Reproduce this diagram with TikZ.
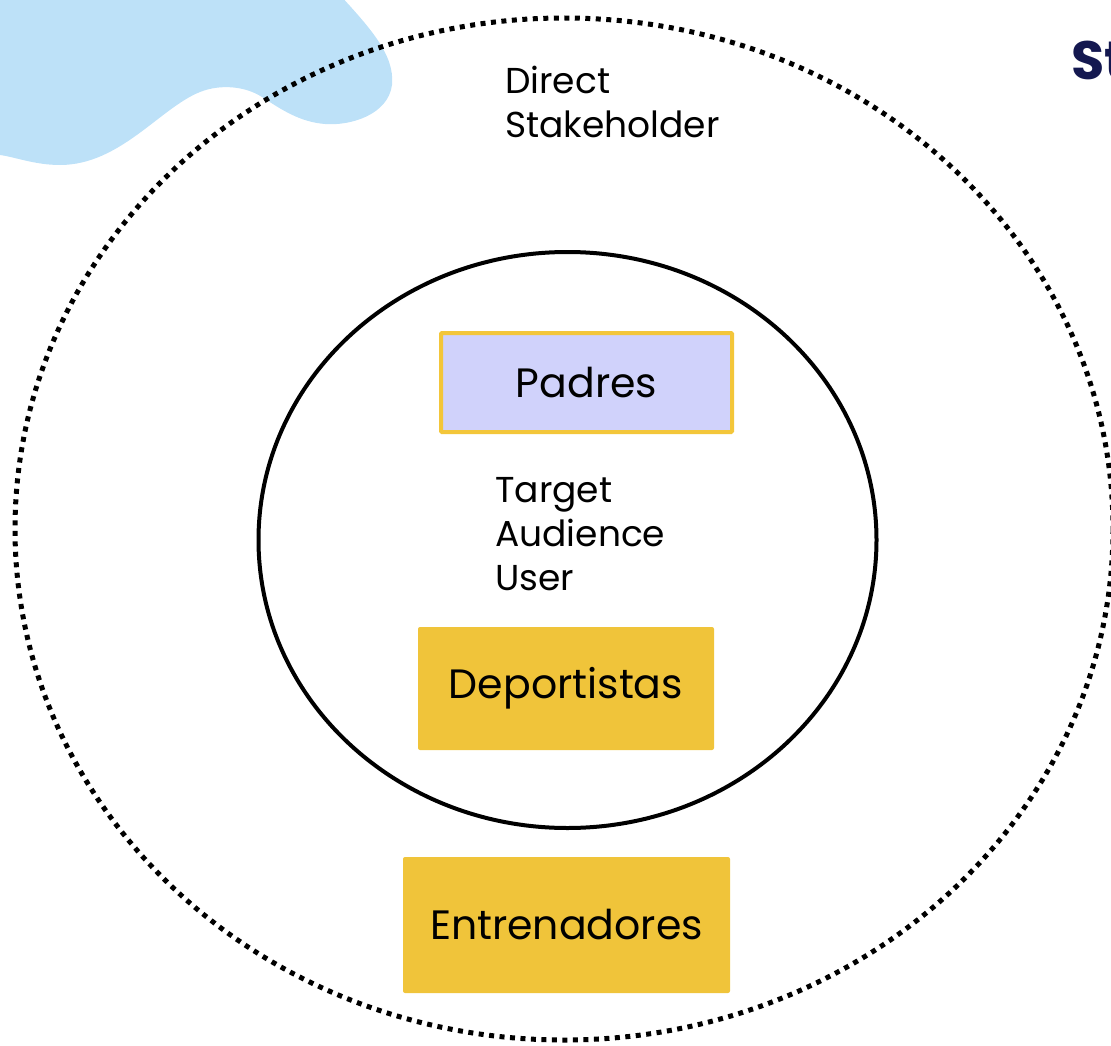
\documentclass[tikz,border=0pt]{standalone}
\usepackage{fontspec}
\setmainfont{Poppins}
\definecolor{blob}{HTML}{BDE1F8}
\definecolor{lav}{HTML}{D0D2FB}
\definecolor{gold}{HTML}{F0C43A}
\definecolor{goldline}{HTML}{F3C63A}
\definecolor{navy}{HTML}{141850}
\begin{document}
\begin{tikzpicture}[x=1pt,y=-1pt,
  lbl/.style={anchor=base west,inner sep=0pt,align=left,font=\fontsize{36}{44}\selectfont},
  boxtext/.style={font=\fontsize{41}{50}\selectfont},
  goldbox/.style={fill=gold,draw=none,rounded corners=2pt,inner sep=0pt,boxtext},
  lavbox/.style={fill=lav,draw=goldline,line width=4pt,rounded corners=1pt,inner sep=0pt,boxtext},
  dots/.style={line width=5pt,dash pattern=on 5pt off 5.5pt},
  solidring/.style={line width=4pt}]
\useasboundingbox (0,0) rectangle (1111,1046);
\fill[blob] (0,-5) -- (340,-5) .. controls (370,28) and (395,55) .. (392,85)
  .. controls (388,115) and (350,126) .. (325,124)
  .. controls (300,122) and (282,110) .. (262,97)
  .. controls (245,86) and (220,84) .. (200,92)
  .. controls (160,108) and (120,165) .. (60,165)
  .. controls (35,165) and (15,157) .. (0,155) -- cycle;
\draw[dots] (564,529) ellipse [x radius=549, y radius=511];
\draw[solidring] (567.5,540) ellipse [x radius=309, y radius=288];
\node[anchor=base west,inner sep=0pt,text=navy,font=\fontsize{54}{60}\bfseries\selectfont] (st) at (1071,80) {St};
\node[lbl] (direct) at (505,138) {Direct\\Stakeholder};
\node[lbl] (target) at (495,590) {Target\\Audience\\User};
\node[lavbox,minimum width=291pt,minimum height=99pt] (padres) at (586.5,382.5) {Padres};
\node[goldbox,minimum width=296pt,minimum height=123pt] (deport) at (566,688.5) {Deportistas};
\node[goldbox,minimum width=327pt,minimum height=136pt] (entren) at (566.5,925) {Entrenadores};
\end{tikzpicture}
\end{document}
